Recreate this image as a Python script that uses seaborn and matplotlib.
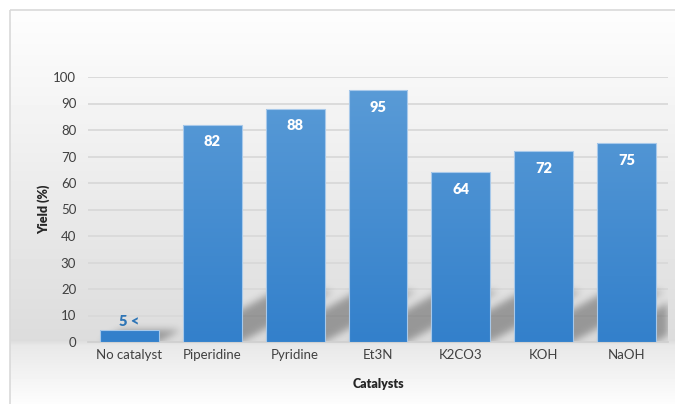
import numpy as np
import pandas as pd
import matplotlib
matplotlib.use("Agg")
import matplotlib.pyplot as plt
from matplotlib.patches import Rectangle
from matplotlib.colors import LinearSegmentedColormap
import seaborn as sns

# Catalyst screening results
catalysts = ["No catalyst", "Piperidine", "Pyridine", "Et3N", "K2CO3", "KOH", "NaOH"]
yields = [4.5, 82, 88, 95, 64, 72, 75]
value_labels = ["5 <"] + [f"{v:.0f}" for v in yields[1:]]
y_ticks = list(range(0, 101, 10))

sns.set_theme(style="white")
plt.rcParams["font.family"] = ["Lato", "DejaVu Sans"]

W, H = 675, 404
fig = plt.figure(figsize=(W / 100, H / 100), dpi=100)
fig.patch.set_facecolor("white")

# ---- chart-area background: vertical grey gradient inside a thin frame
bg = fig.add_axes([0, 0, 1, 1], zorder=-10)
rows = np.arange(H)
knots_y = [0, 10, 77, 200, 340, 345, 404]
knots_v = [253, 253, 247, 234, 220, 232, 253]
shade = np.interp(rows, knots_y, knots_v) / 255.0
img = np.repeat(shade[:, None], W, axis=1)
img[:10, :] = 1.0
img[:, :10] = 1.0
bg.imshow(img, cmap="gray", vmin=0, vmax=1, extent=(0, W, H, 0), aspect="auto",
          interpolation="bilinear")
bg.add_patch(Rectangle((10, 10), W + 20, H + 20, fill=False, edgecolor="#d9d9d9", lw=1.2))
bg.set_xlim(0, W)
bg.set_ylim(H, 0)
bg.axis("off")

# ---- plot area
ax = fig.add_axes([88 / W, 1 - 342 / H, (668 - 88) / W, (342 - 77) / H])
ax.set_facecolor("none")

df = pd.DataFrame({"Catalyst": catalysts, "Yield": yields})
sns.barplot(data=df, x="Catalyst", y="Yield", color="#4a8fd3", width=0.71,
            edgecolor="#a8c9ea", linewidth=0.8, ax=ax, zorder=3)

# soft perspective shadow cast by each bar onto the floor behind it
nx, ny = 1400, 600
xs = np.linspace(-0.5, 6.5, nx)
ys = np.linspace(0, 30, ny)
XX, YY = np.meshgrid(xs, ys)
mask = np.zeros_like(XX)
hw = 0.355
shadow_h = 19.0
shadow_dx = 1.1
for i, v in enumerate(yields):
    hs = min(v, shadow_h)
    d = hs / shadow_h * shadow_dx
    t = np.clip(YY / hs, 0, None)
    inside = (YY <= hs) & (XX >= i - hw + d * t) & (XX <= i + hw + d * t)
    mask = np.maximum(mask, inside.astype(float))


def blur1d(a, sigma, axis):
    r = int(3 * sigma)
    k = np.exp(-0.5 * (np.arange(-r, r + 1) / sigma) ** 2)
    k /= k.sum()
    return np.apply_along_axis(lambda m: np.convolve(m, k, mode="same"), axis, a)


mask = blur1d(mask, 9.0, 1)
mask = blur1d(mask, 28.0, 0)
rgba = np.zeros((ny, nx, 4))
rgba[..., 3] = mask * 0.32
ax.imshow(rgba, origin="lower", extent=(-0.5, 6.5, 0, 30), aspect="auto", zorder=1,
          interpolation="bilinear")

# vertical gradient fill for each bar
grad_cmap = LinearSegmentedColormap.from_list("bar", ["#3380cb", "#5b9cd7"])
for p in ax.patches:
    x0, y0 = p.get_x(), p.get_y()
    w, h = p.get_width(), p.get_height()
    g = np.linspace(0, 1, 256)[:, None] * (h / 100.0)
    im = ax.imshow(g, cmap=grad_cmap, vmin=0, vmax=1, origin="lower",
                   extent=(x0, x0 + w, y0, y0 + h), aspect="auto", zorder=3.5,
                   interpolation="bilinear")
    im.set_clip_path(p)
    p.set_facecolor("none")
    p.set_zorder(4)

# value labels
for i, (v, lab) in enumerate(zip(yields, value_labels)):
    if v < 10:
        ax.text(i, v + 3.4, lab, ha="center", va="center", color="#2e75b6",
                fontsize=10.5, fontweight="heavy", zorder=5)
    else:
        ax.text(i, v - 6.4, lab, ha="center", va="center", color="white",
                fontsize=10.5, fontweight="heavy", zorder=5)

ax.set_xlim(-0.5, 6.5)
ax.set_ylim(0, 100)
ax.set_yticks(y_ticks)
ax.yaxis.grid(True, color="#d9d9d9", linewidth=1.3, zorder=0)
ax.set_axisbelow(True)
for s in ["top", "right", "left"]:
    ax.spines[s].set_visible(False)
ax.spines["bottom"].set_color("#d0d0d0")
ax.spines["bottom"].set_linewidth(1.3)
ax.tick_params(axis="both", length=0, labelsize=9.5, labelcolor="#404040")
ax.tick_params(axis="y", pad=8.5)
ax.tick_params(axis="x", pad=5)

ax.set_xlabel("Catalysts", fontsize=9, fontweight="heavy", color="#262626", labelpad=12)
ax.set_ylabel("Yield (%)", fontsize=9, fontweight="heavy", color="#262626", labelpad=2.5)

fig.savefig("out.png", dpi=100)
